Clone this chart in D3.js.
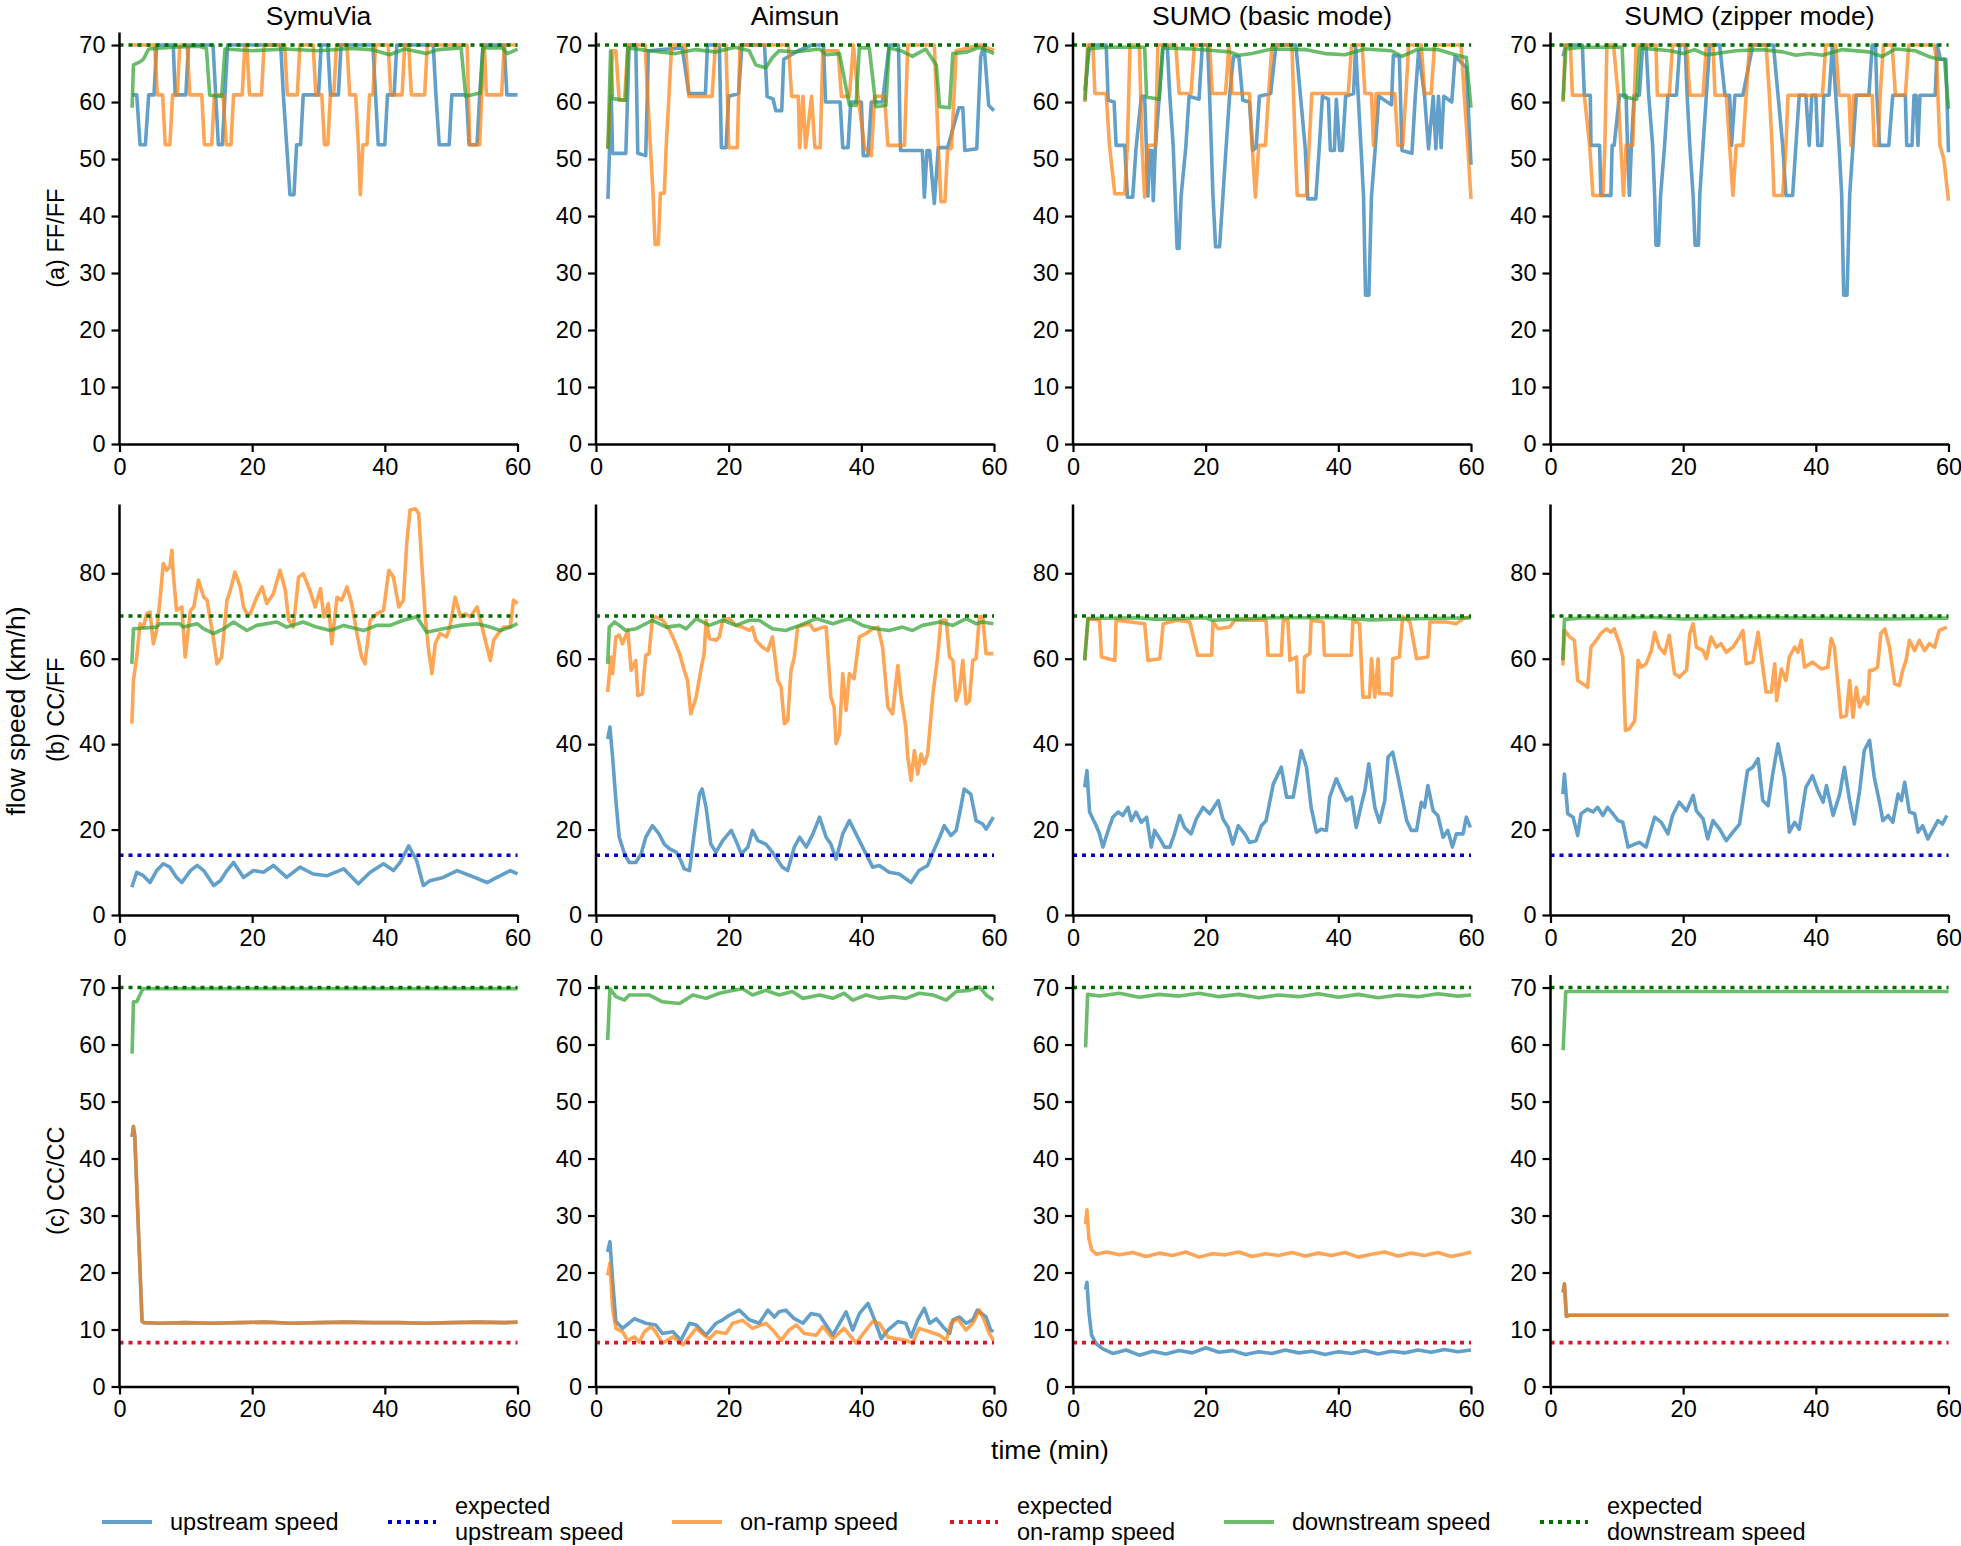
<!DOCTYPE html>
<html>
<head>
<meta charset="utf-8">
<script src="https://cdn.jsdelivr.net/npm/d3@7"></script>
<style>
  body { margin: 0; background: #fff; }
  text { font-family: "Liberation Sans", Arial, sans-serif; fill: #000; }
</style>
</head>
<body>
<svg id="chart" width="1961" height="1546"></svg>
<script>
// ---- data: [time (min), speed (km/h)] ----
const columns = ['SymuVia', 'Aimsun', 'SUMO (basic mode)', 'SUMO (zipper mode)'];
const rowLabels = ['(a) FF/FF', '(b) CC/FF', '(c) CC/CC'];
const xTicks = [0, 20, 40, 60];
const expectedDown = 70;
const expectedUp = 14;
const expectedRamp = 7.7;

// (a) FF/FF
const symFF_up = [[1.9,61.25],[2.6,61.25],[3.1,52.5],[3.9,52.5],[4.4,61.25],[5.2,61.25],[5.6,70],[8.1,70],[8.4,61.25],[10,61.25],[10.4,70],[14.1,70],[14.5,61.25],[14.9,52.5],[15.5,52.5],[15.9,61.25],[16.3,70],[24.3,70],[24.7,61.25],[25.2,52.5],[25.7,43.75],[26.3,43.75],[26.7,52.5],[27.3,52.5],[27.7,61.25],[30,61.25],[30.4,70],[31.4,70],[31.8,61.25],[33,61.25],[33.4,70],[38.2,70],[38.6,61.25],[39,52.5],[40,52.5],[40.4,61.25],[41.4,61.25],[41.8,70],[47.3,70],[47.7,61.25],[48.2,52.5],[49.7,52.5],[50.1,61.25],[52.3,61.25],[52.7,52.5],[53.9,52.5],[54.3,61.25],[54.8,70],[58,70],[58.4,61.25],[60,61.25]];
const symFF_ramp = [[1.9,70],[5.3,70],[5.7,61.25],[6.5,61.25],[6.9,52.5],[7.6,52.5],[8,61.25],[8.7,61.25],[9.1,70],[10.2,70],[10.6,61.25],[12.4,61.25],[12.8,52.5],[13.9,52.5],[14.3,61.25],[15.6,61.25],[16.1,52.5],[16.8,52.5],[17.2,61.25],[18.5,61.25],[18.9,70],[19.2,70],[19.6,61.25],[21.4,61.25],[21.8,70],[24.9,70],[25.3,61.25],[26.8,61.25],[27.2,70],[29.2,70],[29.6,61.25],[30.5,61.25],[30.9,52.5],[31.4,52.5],[31.8,61.25],[32.3,61.25],[32.7,70],[34.3,70],[34.7,61.25],[35.6,61.25],[36,52.5],[36.3,43.75],[36.7,52.5],[37.3,52.5],[37.7,61.25],[38.2,61.25],[38.6,70],[40.5,70],[40.9,61.25],[42.6,61.25],[43,70],[43.6,70],[44,61.25],[46,61.25],[46.4,70],[52.4,70],[52.8,52.5],[54.3,52.5],[54.6,61.25],[55,70],[55.3,61.25],[57.6,61.25],[58,70],[60,70]];
const symFF_down = [[1.9,59],[2.1,66.5],[3,67],[3.6,67.5],[4.4,69.3],[8,69.6],[12,69.8],[13.1,69.4],[13.6,61.2],[15.4,61],[15.9,69.3],[20,69],[25,69.3],[30,69],[35,69.4],[38,69.2],[40.7,68.3],[43,69.3],[46.2,68.5],[48,69.2],[51.5,69.5],[52.2,61],[54,61.5],[54.4,61.5],[54.8,69.5],[57.7,69.5],[58.5,68.5],[60,69.3]];

const aimFF_up = [[1.8,43],[2.3,61],[2.5,51],[4.5,51],[5,70],[6,70],[6.3,51],[7.5,50.6],[7.9,69],[13,69.5],[14,61.5],[16.5,61.5],[16.8,70],[18.6,70],[18.9,52],[19.6,52],[20,61],[21.5,61.5],[22,70],[25.4,70],[25.8,61],[26.7,60.5],[27.1,58.5],[28,58.5],[28.3,67.5],[30.5,69],[32.5,70],[34.3,70],[34.6,60],[36.8,60],[37.2,52],[38,52],[38.4,60],[40,60],[40.3,50.6],[41,50.6],[41.5,60],[43.2,60],[44.2,70],[45.6,70],[45.9,51.5],[49.2,51.5],[49.5,43.3],[49.9,51.5],[50.3,51.5],[51,42.2],[51.6,52],[53,52],[54.7,59],[55.3,59],[55.6,51.5],[57.4,51.8],[58,68],[58.5,70],[59.2,59.4],[60,58.5]];
const aimFF_ramp = [[1.8,51.8],[2.5,69],[3,69],[3.5,60.3],[4.3,60.3],[4.8,70],[7.4,70],[8.2,52],[8.6,44],[8.9,35],[9.4,35],[9.7,44],[10.3,44],[10.6,52.7],[11,61],[11.4,70],[13.5,70],[14,61],[17.5,61],[18,70],[19.6,70],[20,52],[21.3,52],[21.7,70],[29,70],[29.5,61],[30.5,61],[30.7,52],[31.2,61],[31.6,52],[32.5,61],[33,52],[33.8,52],[34.2,69],[36.5,69],[37,61],[38.2,61],[38.8,70],[39.5,61],[40.5,52],[41.5,50.6],[42,61],[43.5,61],[44,52.4],[46.5,52.4],[47,70],[51,70],[51.7,50],[52,42.5],[52.6,42.5],[53,51.5],[53.6,52],[54.3,69],[58,70],[60,69]];
const aimFF_down = [[1.8,51.8],[2.2,69],[2.5,60.6],[4.5,60.3],[4.8,69.5],[8,69],[12,68.5],[15,69.2],[18,68.8],[21,69.6],[23.1,69],[24.1,66.5],[25.6,66],[26.6,67.8],[27.6,69],[30,68.8],[33.7,69.3],[34.7,68.3],[36.7,68.5],[38.2,59.5],[39.2,59.4],[39.7,69.5],[41.2,69.5],[42.2,59.2],[43.7,59.4],[44.2,69.5],[46,69],[47.7,68],[49.7,69.3],[51.3,66.5],[51.8,59.2],[53.3,59],[53.8,68.5],[56,68.8],[57.8,69.6],[60,68.5]];

const basFF_up = [[1.8,62],[2.5,70],[5,70],[5.3,60.3],[6.2,60],[6.5,52.4],[7.8,52.4],[8.2,43.3],[9,43.3],[9.5,51.8],[10.3,61],[10.8,61],[11.3,43.5],[11.6,51.5],[11.9,51.5],[12.1,42.7],[12.4,51.5],[13,61],[13.6,70],[14.2,70],[14.6,61],[15.1,52.4],[15.4,43.5],[15.7,34.3],[16,34.3],[16.3,43.5],[17,52],[17.5,61],[19,60.5],[19.5,70],[20.3,70],[20.6,61],[21.1,43.5],[21.5,34.6],[22.1,34.6],[22.6,43.5],[23.1,52.4],[23.6,61],[24.2,68],[25,68],[25.6,60.3],[26.6,60],[27.1,51.5],[27.6,52],[28.1,61],[29.8,61.5],[30.6,70],[33.6,70],[34.3,61],[35,52],[35.4,43],[36.6,43],[37.1,51.5],[37.6,61],[38.5,60.5],[38.8,51.5],[39.4,51.5],[39.7,60.5],[40.2,51.5],[40.6,51.5],[41.1,61],[42.3,61.5],[42.6,70],[43,61],[43.4,52.4],[43.8,43.5],[44.1,26.1],[44.6,26.1],[45,43.5],[45.6,52.4],[46.1,61],[48,59.5],[48.3,68.2],[49.2,68],[49.6,51.5],[51.1,51],[51.6,61],[52.1,69],[53,61],[53.6,51.8],[54.3,61],[54.7,51.8],[55.1,61],[55.5,52],[55.9,61],[57.1,60],[57.6,68],[58.5,67],[59.3,66],[60,49]];
const basFF_ramp = [[1.8,60],[2.2,70],[3,70],[3.3,61.5],[5,61.5],[5.5,52.4],[6.3,43.9],[7.8,43.9],[8.2,52.4],[8.6,70],[10,70],[10.4,52.4],[10.8,43.3],[11.3,52.4],[12.4,52.4],[12.8,70],[15.5,70],[16,61.5],[17.8,61.5],[18.3,70],[20.6,70],[21,61.5],[23,61.5],[23.5,70],[24,61.5],[26.6,61.5],[27,52.4],[27.5,43.3],[28,52.4],[29,52.4],[29.5,61.5],[30,70],[33,70],[33.5,52.4],[33.8,43.6],[35.2,43.6],[35.6,52.4],[36,61.5],[41.5,61.5],[42,70],[43.6,70],[44,61.5],[45,61.5],[45.3,52.4],[45.7,61.5],[48.5,61.5],[49,52.4],[49.7,52.4],[50.2,61.5],[50.6,70],[52.5,70],[53,61.5],[54,61.5],[54.5,70],[58.5,70],[59,61],[59.5,52.4],[60,43]];
const basFF_down = [[1.8,60.3],[2.3,69.3],[5,69.6],[10.8,69.6],[11.1,60.9],[13,60.5],[13.5,69.5],[18,69.3],[21.5,69],[23.6,68.8],[25,68.2],[27,68.5],[30,69.3],[35,69.2],[38,68.5],[41,68.3],[44,69.3],[48,69],[49.6,68],[52,69.3],[55,69.2],[57,68.5],[58.6,68],[59.3,67.8],[60,59]];

const zipFF_up = [[1.9,68],[2.3,70],[4.8,70],[5.1,61.2],[6,61.2],[6.1,52.4],[7.4,52.4],[7.6,43.6],[9.1,43.6],[9.3,52.4],[9.6,52.4],[10.4,61.2],[11.4,61.2],[11.6,52.4],[11.9,43.6],[12.2,52.4],[12.6,61.2],[13.4,61.2],[13.9,70],[14.4,70],[14.8,61.2],[15.4,52.4],[15.7,43.6],[15.9,34.9],[16.3,34.9],[16.6,43.6],[17.2,52.4],[17.7,61.2],[19,61.2],[19.5,70],[20.3,70],[20.6,61.2],[21,52.4],[21.5,43.6],[21.8,34.9],[22.3,34.9],[22.5,43.6],[23,52.4],[23.5,61.2],[24,70],[25.5,70],[26.3,61.2],[27,61.2],[27.3,52.4],[27.8,61.2],[29,61.2],[30.5,70],[33.6,70],[34.3,61.2],[35,52.4],[35.5,43.6],[36.5,43.6],[37,52.4],[37.5,61.2],[38.5,61.2],[39,52.4],[39.4,61.2],[40,61.2],[40.3,52.4],[40.9,52.4],[41.2,61.2],[42,61.2],[42.5,70],[43,61.2],[43.5,52.4],[43.9,43.6],[44.2,26.1],[44.7,26.1],[45.1,43.6],[45.6,52.4],[46.1,61.2],[48,61.2],[48.5,70],[49,70],[49.2,61.2],[49.6,52.4],[51,52.4],[51.6,61.2],[53.5,61.2],[53.7,52.4],[54.5,52.4],[54.8,61.2],[55.1,61.2],[55.4,52.4],[55.7,61.2],[58,61.2],[58.3,70],[58.8,67.5],[59.6,67.5],[60,51.2]];
const zipFF_ramp = [[1.9,60],[2.2,70],[3,70],[3.3,61.2],[5.1,61.2],[5.9,52.4],[6.4,43.6],[7.9,43.6],[8.2,52.4],[8.5,70],[9.5,70],[10.2,61.2],[10.6,52.4],[11,43.6],[11.4,52.4],[12.4,52.4],[12.9,70],[15.9,70],[16.1,61.2],[17.9,61.2],[18.4,70],[20.5,70],[21,61.2],[23,61.2],[23.5,70],[24.5,70],[24.8,61.2],[26.5,61.2],[27,52.4],[27.5,43.6],[28,52.4],[29,52.4],[29.5,61.2],[30,70],[32.5,70],[33,61.2],[33.4,52.4],[33.7,43.6],[35,43.6],[35.5,52.4],[35.8,61.2],[41,61.2],[41.5,70],[43,70],[43.5,61.2],[45,61.2],[45.3,52.4],[45.7,61.2],[48.5,61.2],[48.8,52.4],[49.4,52.4],[49.7,61.2],[50.2,70],[51.5,70],[52,61.2],[53.5,61.2],[54,70],[57.8,70],[58.2,67.5],[58.7,52.4],[59.3,50],[60,42.7]];
const zipFF_down = [[1.9,60.3],[2.3,69.3],[5,69.6],[10.8,69.6],[11.1,60.9],[13,60.5],[13.4,69.5],[18,69],[20,68.5],[21.7,69.2],[23.5,68.3],[25,68.5],[28,69],[32,69.2],[35,68.8],[37,68.2],[39,68.5],[41,68.2],[44,69.2],[48,68.8],[50,68],[52,69.3],[55,69],[57,68],[58.5,67.5],[59.4,67.5],[60,58.8]];

// (b) CC/FF
const symCF_up = [[1.86,6.5],[2.6,10],[3.6,9.2],[4.6,7.6],[5.6,10.4],[6.6,12],[7.6,11.2],[8.6,8.8],[9.4,7.6],[10.7,10.4],[11.7,11.6],[12.7,10.4],[14.2,6.9],[15.2,8],[16.2,10.4],[17.2,12.3],[18.7,8.8],[20.2,10.4],[21.7,10],[23.2,11.6],[25.2,8.8],[27.2,11.2],[29.2,9.6],[31.3,9.2],[33.8,10.8],[36,7.3],[37.8,10],[39.8,12],[41.3,10.4],[42.3,12.3],[43.6,16.2],[44.8,12.7],[45.8,6.9],[46.8,8],[48.8,8.8],[50.9,10.4],[52.9,9.2],[55.4,7.6],[56.9,8.8],[58.9,10.4],[60,9.6]];
const symCF_ramp = [[1.86,44.8],[2.1,54.9],[2.6,60.4],[3.1,68.2],[3.6,67.4],[4.1,70.5],[4.6,70.9],[5.1,63.5],[5.6,66.6],[6.1,73.7],[6.6,82.3],[7.1,80.7],[7.6,81.5],[7.9,85.4],[8.1,79.9],[8.6,71.3],[9.4,72.1],[9.9,60.4],[10.7,71.3],[11.2,72.1],[11.9,78.4],[12.7,74.4],[13.2,73.7],[14.2,64.3],[14.7,58.8],[15.4,60.4],[16.2,73.7],[16.7,76],[17.4,80.3],[18.2,76.8],[18.7,72.1],[19.2,70.5],[19.7,70.5],[20.7,74.4],[21.5,76.8],[22.2,72.9],[23.2,75.2],[24.2,80.7],[25,76],[25.5,69],[26.2,67.4],[27,79.1],[27.7,79.9],[28.7,76],[29.5,72.1],[30.3,76.4],[30.8,69.8],[31.5,72.9],[32,63.5],[32.8,74.4],[33.5,73.7],[34.3,76.8],[35,72.9],[35.8,65.8],[36.5,60.4],[37,58.8],[37.8,69],[38.8,70.5],[39.8,71.3],[40.6,80.7],[41.3,79.1],[42.1,72.1],[42.8,73.7],[43.3,87],[43.8,94.8],[44.6,95.1],[45.1,94],[45.6,81.5],[46.1,69.8],[46.6,61.9],[47.1,56.5],[47.6,63.5],[48.3,65.9],[49.3,65.1],[49.8,67.4],[50.6,74.4],[51.4,69.8],[52.1,70.5],[52.9,69.8],[53.9,72.1],[54.9,65.9],[55.9,59.6],[56.4,64.3],[57.1,65.9],[57.9,67.4],[58.9,67.4],[59.4,73.7],[60,72.9]];
const symCF_down = [[1.86,58.8],[2.1,67],[5.6,67.4],[6.1,68.2],[9.1,68.2],[9.6,67.4],[11.7,68.2],[12.7,67],[14.2,65.9],[15.7,67],[17.2,68.6],[19.2,66.6],[20.7,67.8],[23.7,68.6],[25.2,67.4],[27.7,68.6],[29.7,67.4],[31.8,66.6],[33.8,67.8],[36.8,66.6],[38.8,67.8],[40.8,67.8],[42.8,69],[44.8,69.8],[46.3,66.2],[48.8,67],[51.4,67.8],[53.9,68.2],[55.9,67.4],[57.4,66.6],[58.9,67.4],[60,68.2]];

const aimCF_up = [[1.76,41.2],[2.1,44],[2.5,37],[3,26.8],[3.5,18.2],[4.3,14.3],[5,12.3],[6,12.3],[6.8,14.3],[7.5,18.2],[8.5,20.9],[9.5,19],[10.3,16.6],[11.1,15.5],[12.1,14.7],[12.8,12.7],[13.3,10.8],[14.1,10.4],[14.8,19],[15.6,28.3],[16,29.5],[16.6,25.2],[17.3,16.6],[18.1,14.7],[19.1,17.4],[20.4,19.8],[21.1,17.4],[21.9,14.3],[22.9,15.9],[23.6,19.8],[24.4,17.4],[25.6,16.6],[26.6,14.7],[28.1,11.2],[28.9,10.4],[29.9,15.9],[30.7,18.2],[31.7,15.9],[32.7,19],[33.7,22.9],[34.7,18.2],[35.4,16.6],[36.2,13.1],[37.2,19],[38.2,22.1],[39.2,19],[40.2,15.9],[41.7,11.2],[42.7,11.6],[44.2,10],[45.7,9.6],[47.5,7.6],[48.7,10.4],[50,11.6],[50.8,14.7],[51.8,18.2],[52.5,20.9],[53.5,18.6],[54.3,19.8],[55,25.2],[55.5,29.5],[56.5,28.3],[57.3,22.1],[58.3,21.3],[58.8,20.1],[59.3,21.3],[59.9,22.9]];
const aimCF_ramp = [[1.76,52.2],[2.26,60.4],[2.5,56.5],[3,65.1],[3.5,65.5],[4,63.5],[4.8,66.6],[5.3,57.3],[6,59.6],[6.3,51.4],[7,51.8],[7.5,60.8],[8,61.2],[8.5,69.4],[9,69.8],[10.1,69],[11.1,66.6],[11.8,64.3],[12.6,61.2],[13.3,57.3],[13.8,54.9],[14.3,47.1],[15.1,51],[15.8,57.3],[16.3,61.2],[16.6,69],[17.1,64.7],[18.1,64.3],[18.6,65.1],[19.1,69],[20.1,69.4],[21.1,67.8],[22.1,67.4],[23.1,66.6],[23.6,67.4],[24.1,64.3],[25.1,62.7],[25.9,61.9],[26.6,65.1],[27.4,54.9],[27.9,53.4],[28.4,44.8],[28.9,45.5],[29.4,57.3],[29.9,60.4],[30.4,67.4],[31.2,67.8],[32.2,68.2],[32.9,66.6],[34.2,67.4],[34.7,67.4],[35.4,51],[35.9,48.7],[36.2,40.1],[36.7,42.4],[37.2,56.5],[37.7,47.9],[38.2,56.5],[38.9,55.3],[39.7,65.1],[40.7,65.9],[41.7,67],[42.5,67.4],[43.2,62.7],[44,48.7],[44.7,47.1],[45.5,58.4],[46,51],[46.7,44],[47,37],[47.5,31.5],[48,38.5],[48.5,33],[49,37.7],[49.5,35.4],[50,37.7],[50.8,51.8],[51.5,60.4],[52,69],[52.8,69],[53.3,60.4],[53.8,59.6],[54.3,50.2],[54.8,52.6],[55.3,59.6],[55.8,49.4],[56.3,50.2],[56.8,59.6],[57.3,60],[57.8,69.8],[58.3,69.8],[58.8,61.2],[59.9,61.2]];
const aimCF_down = [[1.76,58.8],[2,67.4],[2.8,68.6],[3.5,67.8],[4.5,66.6],[6,67],[8.5,69],[10.6,67.4],[12.6,67.8],[13.6,67],[15.1,69.4],[17.1,67.8],[19.1,69],[21.1,67.8],[23.1,69],[24.6,69],[26.6,67],[28.6,66.6],[30.7,67.8],[33.2,69.4],[35.7,68.2],[38.2,69.4],[40.2,67.8],[42.2,67],[44.2,66.6],[46.2,67.4],[47.7,66.6],[49.2,67.8],[51.8,68.6],[53.8,67.8],[55.8,69.4],[57.3,68.2],[58.3,68.6],[59.9,68.2]];

const basCF_up = [[1.76,29.9],[2.1,33.8],[2.5,24.1],[3.5,20.9],[4,19],[4.5,15.9],[5.3,19.8],[6,22.9],[6.8,24.1],[7.5,23.3],[8.3,25.2],[8.8,22.1],[9.5,24.1],[10.3,21.7],[11.1,22.9],[11.8,15.9],[12.3,19.8],[13.1,17.8],[13.8,15.9],[14.6,15.9],[15.3,19],[16.1,23.3],[16.8,20.5],[17.8,19],[18.6,22.5],[19.6,25.2],[20.6,23.7],[21.9,26.8],[22.6,22.5],[23.4,20.5],[24.1,16.6],[24.9,20.9],[25.9,19],[26.6,17],[27.6,17.4],[28.4,20.9],[29.1,22.1],[30.2,30.7],[31.4,34.6],[32.2,27.6],[33.2,27.6],[33.9,33.8],[34.4,38.5],[35.2,34.6],[35.9,25.2],[36.7,19.4],[37.4,20.1],[38.2,19.8],[38.7,27.6],[39.7,31.9],[40.5,29.1],[41.2,26.8],[42,27.6],[42.7,20.5],[43.5,26],[44,29.1],[44.6,35.4],[45.5,25.2],[46.2,21.7],[47,26.8],[47.5,37],[48.2,38.1],[49,32.3],[49.7,26.8],[50.3,22.1],[51,19.8],[51.8,19.8],[52.5,26.4],[53,25.2],[53.5,30.3],[54.3,24.4],[55,23.3],[55.8,18.2],[56.5,19.8],[57.2,15.9],[57.8,19],[58.8,19],[59.3,22.9],[59.9,20.5]];
const basCF_ramp = [[1.76,59.6],[2.26,69.4],[4,69],[4.3,60.4],[6.3,59.6],[6.5,69],[10.8,68.2],[11.3,59.6],[13.1,60],[13.6,68.2],[15.6,69],[17.6,68.6],[18.8,60.8],[20.9,60.8],[21.1,68.6],[21.9,67],[23.6,67.4],[24.4,69],[29.1,69],[29.4,60.8],[31.4,60.8],[31.7,69],[32.4,69],[32.7,59.6],[33.7,60.4],[33.9,52.2],[34.7,52.2],[34.9,60.4],[35.7,61.2],[35.9,69],[37.7,68.6],[37.9,60.8],[41.96,60.8],[42.2,69],[43.2,68.2],[43.7,51],[44.7,51],[45,60],[45.5,51],[46,60],[46.2,51.8],[47.5,51.8],[48,51.4],[48.2,60],[49.2,60.4],[49.7,69.8],[50.8,68.6],[51.8,60],[53.5,60.4],[53.8,68.6],[56.3,68.6],[57.8,68.2],[58.8,69.4],[59.9,69.8]];
const basCF_down = [[1.76,59.6],[2.26,69.4],[10,69.6],[12.5,69.2],[20,69.6],[21,69],[30,69.6],[40,69.6],[44.7,69.1],[50,69.3],[60,69.6]];

const zipCF_up = [[1.86,28.3],[2.1,33],[2.6,23.7],[3.4,22.9],[4.1,18.6],[4.6,23.7],[5.6,24.8],[6.4,24.1],[7.1,25.2],[7.9,23.3],[8.6,25.2],[9.4,23.7],[10.2,22.1],[10.9,21.7],[11.7,15.9],[12.7,16.6],[13.4,17],[14.4,15.9],[15.7,22.9],[16.7,21.7],[17.7,19],[18.4,23.3],[19.4,26.4],[20.5,24.4],[21.5,28],[22,24.4],[23,22.5],[23.7,17.8],[24.5,22.1],[25.5,20.1],[26.5,17.4],[27.5,19.4],[28.5,21.3],[29.7,33.8],[30.5,34.6],[31.3,36.6],[32,26.8],[32.8,25.6],[33.5,33],[34.3,40.1],[35.3,32.3],[36,19.4],[36.8,21.7],[37.5,20.1],[38.5,29.9],[39.5,32.6],[40.3,29.1],[41.1,26.4],[41.6,30.3],[42.6,23.3],[43.6,28.3],[44.3,34.6],[45.1,26.8],[45.8,21.3],[46.6,29.1],[47.3,38.5],[48.1,40.9],[48.8,32.3],[49.6,26.4],[50.1,22.1],[50.9,23.3],[51.6,21.7],[52.4,28.3],[52.9,26.8],[53.4,31.1],[54.1,24.1],[54.9,23.7],[55.4,19.4],[56.1,20.9],[56.9,17.8],[57.6,19.8],[58.4,22.1],[59.1,21.3],[59.75,23.3]];
const zipCF_ramp = [[1.86,58.4],[2.1,66.6],[2.9,65.1],[3.6,64.3],[4.1,54.9],[4.9,54.1],[5.6,53.3],[6.1,62.7],[6.9,64.3],[7.6,65.9],[8.4,67],[9.1,66.2],[9.6,67],[10.4,63.5],[10.9,60.4],[11.3,43.2],[11.9,43.6],[12.7,45.5],[13.2,59.6],[13.7,58],[14.4,58.8],[15.2,61.9],[15.7,66.2],[16.4,62.7],[17.2,61.2],[17.9,65.5],[18.7,56.5],[19.4,55.7],[20.5,57.3],[21,65.9],[21.5,68.2],[22,62.7],[23,61.9],[23.5,60],[24.2,65.1],[25,62.7],[25.7,63.5],[26.5,61.5],[27.5,62.7],[28.5,65.1],[29,66.6],[29.5,58.8],[30.5,59.2],[31.3,66.2],[31.8,60.4],[32.5,52.2],[33.3,52.2],[33.8,58.8],[34.1,50.2],[34.8,57.6],[35.5,54.9],[36,60.4],[36.8,62.7],[37.3,61.5],[37.8,64.3],[38.3,58],[39.5,59.2],[40.8,57.6],[41.8,58],[42.3,64.7],[42.8,62.7],[43.3,54.5],[43.8,46.3],[44.6,46.7],[45.1,54.9],[45.6,46.3],[46.1,53.3],[46.6,48.7],[47.3,51],[47.8,49.4],[48.1,57.3],[48.6,57.3],[49.3,58],[49.8,65.9],[50.4,67],[51.1,62.7],[51.9,54.1],[52.6,53.7],[53.1,57.3],[53.6,59.6],[54.1,64.3],[54.9,61.9],[55.6,64.3],[56.4,61.9],[57.1,63.5],[57.9,62.7],[58.6,66.6],[59.75,67.4]];
const zipCF_down = [[1.86,59.6],[2.1,69.2],[5,69.6],[10,69.4],[15,69.7],[20,69.3],[25,69.5],[30,69.6],[40,69.5],[50,69.3],[60,69.5]];

// (c) CC/CC
const symCC_ramp = [[1.9,43.8],[2.1,45.6],[2.3,44],[3.4,11.4],[3.7,11.2],[6,11.1],[10,11.2],[14,11.1],[18,11.2],[22,11.3],[26,11.1],[30,11.2],[34,11.3],[38,11.2],[42,11.2],[46,11.1],[50,11.2],[54,11.3],[58,11.2],[60,11.3]];
const symCC_up = symCC_ramp.map(d => [d[0], d[1]]);
const symCC_down = [[1.9,58.4],[2.1,67.5],[2.6,67.5],[3.4,69.5],[3.6,69.8],[60,69.8]];

const aimCC_up = [[1.76,23.6],[2.1,25.4],[2.5,18.7],[3,11.4],[4,10.2],[5.8,11.9],[7.5,11.1],[9,10.8],[10,9.3],[11.6,9.6],[12.8,8.1],[14.1,11.1],[15.1,10.8],[16.6,9],[18.1,11.1],[19.1,11.7],[20.1,12.5],[21.6,13.4],[23.1,11.7],[24.6,11.1],[25.9,13.4],[26.9,12.2],[27.6,13.1],[28.6,13.4],[29.9,11.9],[31.2,11.1],[32.4,12.8],[33.7,12.5],[35.7,9],[37.7,13.1],[38.7,9.9],[39.7,12.8],[41,14.6],[42,11.7],[43,8.4],[44,9.9],[45.5,11.4],[46.7,11.1],[47.5,8.7],[48.5,11.7],[49.5,13.7],[50.3,11.1],[51.3,11.9],[52.3,10.5],[53.3,9.3],[53.8,11.7],[54.8,12.2],[55.8,11.1],[56.8,11.7],[57.5,13.4],[58.8,12.2],[59.5,9.9],[59.9,9.6]];
const aimCC_ramp = [[1.76,19.5],[2.1,21.6],[2.5,13.7],[3,10.2],[4,9.6],[4.8,8.1],[5.8,8.7],[6.5,7.8],[7.3,9.6],[8.3,10.5],[9,9.6],[10,7.6],[11.6,8.7],[13.1,7.3],[14.1,8.7],[15.1,10.2],[16.3,9],[17.1,8.4],[18.1,9.6],[19.6,9.3],[20.6,11.1],[22.1,11.6],[23.6,10.2],[25.6,11.1],[26.9,9.6],[27.9,8.1],[29.1,9.9],[30.2,10.8],[31.4,9.3],[33.2,9],[34.2,10.5],[35.7,8.4],[37.4,10.2],[39.2,7.6],[40.5,9.6],[41.7,11.4],[42.7,11.1],[44,8.7],[45.2,8.4],[46.7,8.1],[47.7,7.6],[48.7,10.2],[50.3,9.6],[51.8,9],[52.8,8.1],[53.5,11.1],[54.5,11.9],[55.8,9.9],[56.8,11.1],[57.8,13.4],[58.5,11.7],[59.3,9.3],[59.9,8.1]];
const aimCC_down = [[1.76,60.8],[2.1,69.8],[3,68.4],[4.3,67.8],[5,68.7],[8,68.7],[10,67.5],[12.6,67.2],[14.6,68.7],[16.6,68.1],[18.6,69],[20.6,69.5],[22.1,69.8],[23.6,68.7],[25.6,69.5],[27.6,68.7],[29.6,69.3],[31.2,68.1],[33.7,68.7],[35.7,68.1],[37.4,69],[38.7,67.8],[40.7,68.7],[42.7,68.1],[44.7,68.4],[46.7,68.1],[48.7,69],[50.8,68.7],[52.8,67.8],[54.3,69.3],[56.3,69.5],[57.8,70.1],[58.8,68.7],[59.9,67.8]];

const basCC_up = [[1.9,17],[2.1,18.3],[2.4,13],[2.8,9],[3.5,7.5],[4.5,6.6],[6,5.8],[8,6.4],[10,5.5],[12,6.2],[14,5.7],[16,6.3],[18,5.9],[20,6.8],[22,6],[24,6.3],[26,5.6],[28,6.1],[30,5.8],[32,6.4],[34,5.9],[36,6.2],[38,5.6],[40,6.1],[42,5.8],[44,6.3],[46,5.7],[48,6.2],[50,5.9],[52,6.4],[54,6],[56,6.5],[58,6.1],[60,6.4]];
const basCC_ramp = [[1.9,28.5],[2.1,31],[2.4,26],[2.8,24],[3.5,23.2],[5,23.6],[7,23.1],[9,23.5],[11,22.8],[13,23.4],[15,23],[17,23.6],[19,22.7],[21,23.3],[23,23.1],[25,23.6],[27,22.8],[29,23.3],[31,23],[33,23.5],[35,22.9],[37,23.4],[39,23],[41,23.5],[43,22.7],[45,23.2],[47,23.6],[49,22.9],[51,23.4],[53,23],[55,23.5],[57,22.8],[59,23.3],[60,23.6]];
const basCC_down = [[1.9,59.5],[2.2,68.8],[4,68.5],[7,69],[10,68.3],[13,68.8],[16,68.5],[19,69],[22,68.4],[25,68.8],[28,68.2],[31,68.7],[34,68.4],[37,68.9],[40,68.3],[43,68.8],[46,68.2],[49,68.7],[52,68.4],[55,68.9],[58,68.5],[60,68.7]];

const zipCC_ramp = [[1.9,16.5],[2.1,18],[2.4,12.3],[2.8,12.5],[60,12.5]];
const zipCC_up = zipCC_ramp.map(d => [d[0], d[1]]);
const zipCC_down = [[1.9,59],[2.3,69.3],[60,69.3]];

// ---- layout ----
const colX = [119.5, 596, 1073, 1550.5];
const panelW = 398;
const rowSpecs = [
  { top: 32.5, bottom: 444, yMax: 72.2, ticks: d3.range(0, 71, 10), expected: [[expectedDown, 'down']] },
  { top: 504.5, bottom: 915, yMax: 96.1, ticks: d3.range(0, 81, 20), expected: [[expectedDown, 'down'], [expectedUp, 'up']] },
  { top: 975, bottom: 1386.5, yMax: 72.2, ticks: d3.range(0, 71, 10), expected: [[expectedDown, 'down'], [expectedRamp, 'ramp']] }
];
const grid = [
  [[symFF_up, symFF_ramp, symFF_down], [aimFF_up, aimFF_ramp, aimFF_down], [basFF_up, basFF_ramp, basFF_down], [zipFF_up, zipFF_ramp, zipFF_down]],
  [[symCF_up, symCF_ramp, symCF_down], [aimCF_up, aimCF_ramp, aimCF_down], [basCF_up, basCF_ramp, basCF_down], [zipCF_up, zipCF_ramp, zipCF_down]],
  [[symCC_up, symCC_ramp, symCC_down], [aimCC_up, aimCC_ramp, aimCC_down], [basCC_up, basCC_ramp, basCC_down], [zipCC_up, zipCC_ramp, zipCC_down]]
];
const lineColor = { up: '#1f77b4', ramp: '#ff7f0e', down: '#2ca02c' };
const expColor = { up: '#0000cc', ramp: '#dc1428', down: '#006f00' };
const keys = ['up', 'ramp', 'down'];
const font = '"Liberation Sans", Arial, sans-serif';
const smallSize = 23.5, bigSize = 26.5;

const svg = d3.select('#chart');

rowSpecs.forEach((row, ri) => {
  const y = d3.scaleLinear().domain([0, row.yMax]).range([row.bottom, row.top]);
  columns.forEach((title, ci) => {
    const x = d3.scaleLinear().domain([0, 60]).range([colX[ci], colX[ci] + panelW]);
    const g = svg.append('g');

    // series lines
    const line = d3.line().x(d => x(d[0])).y(d => y(d[1]));
    grid[ri][ci].forEach((series, si) => {
      g.append('path')
        .attr('d', line(series))
        .attr('fill', 'none')
        .attr('stroke', lineColor[keys[si]])
        .attr('stroke-opacity', 0.7)
        .attr('stroke-width', 3.6)
        .attr('stroke-linejoin', 'round');
    });

    // expected speeds (dotted)
    row.expected.forEach(([v, k]) => {
      g.append('line')
        .attr('x1', x(0)).attr('x2', x(60))
        .attr('y1', y(v)).attr('y2', y(v))
        .attr('stroke', expColor[k])
        .attr('stroke-width', 3.6)
        .attr('stroke-dasharray', '4,5');
    });

    // axes
    const xAxis = g.append('g')
      .attr('transform', `translate(0,${row.bottom})`)
      .call(d3.axisBottom(x).tickValues(xTicks).tickSize(8).tickSizeOuter(0).tickPadding(6));
    const yAxis = g.append('g')
      .attr('transform', `translate(${colX[ci]},0)`)
      .call(d3.axisLeft(y).tickValues(row.ticks).tickSize(8).tickSizeOuter(0).tickPadding(6));
    [xAxis, yAxis].forEach(a => {
      a.select('.domain').attr('stroke', '#000').attr('stroke-width', 2.5);
      a.selectAll('.tick line').attr('stroke', '#000').attr('stroke-width', 2.2);
      a.selectAll('.tick text').attr('font-size', smallSize).attr('font-family', font).attr('fill', '#000');
    });
    yAxis.select('.domain').attr('d', `M0,${row.bottom}V${row.top}`);

    if (ri === 0) {
      svg.append('text')
        .attr('x', colX[ci] + panelW / 2)
        .attr('y', 25)
        .attr('text-anchor', 'middle')
        .attr('font-size', bigSize)
        .text(title);
    }
  });

  svg.append('text')
    .attr('transform', `translate(64,${(row.top + row.bottom) / 2}) rotate(-90)`)
    .attr('text-anchor', 'middle')
    .attr('font-size', smallSize)
    .text(rowLabels[ri]);
});

// shared axis labels
svg.append('text')
  .attr('transform', 'translate(25,711) rotate(-90)')
  .attr('text-anchor', 'middle')
  .attr('font-size', bigSize)
  .text('flow speed (km/h)');
svg.append('text')
  .attr('x', 1050).attr('y', 1459)
  .attr('text-anchor', 'middle')
  .attr('font-size', bigSize)
  .text('time (min)');

// legend
const legendItems = [
  { x: 102, k: 'up', dotted: false, label: ['upstream speed'] },
  { x: 388, k: 'up', dotted: true, label: ['expected', 'upstream speed'] },
  { x: 672, k: 'ramp', dotted: false, label: ['on-ramp speed'] },
  { x: 950, k: 'ramp', dotted: true, label: ['expected', 'on-ramp speed'] },
  { x: 1224, k: 'down', dotted: false, label: ['downstream speed'] },
  { x: 1540, k: 'down', dotted: true, label: ['expected', 'downstream speed'] }
];
const legY = 1522;
legendItems.forEach(it => {
  const w = it.dotted ? 48 : 50;
  svg.append('line')
    .attr('x1', it.x).attr('x2', it.x + w)
    .attr('y1', legY).attr('y2', legY)
    .attr('stroke', it.dotted ? expColor[it.k] : lineColor[it.k])
    .attr('stroke-opacity', it.dotted ? 1 : 0.7)
    .attr('stroke-width', 3.8)
    .attr('stroke-dasharray', it.dotted ? '4,5' : null);
  const tx = it.x + w + (it.dotted ? 19 : 18);
  if (it.label.length === 1) {
    svg.append('text').attr('x', tx).attr('y', legY + 8).attr('font-size', smallSize).text(it.label[0]);
  } else {
    svg.append('text').attr('x', tx).attr('y', legY - 8).attr('font-size', smallSize).text(it.label[0]);
    svg.append('text').attr('x', tx).attr('y', legY + 18).attr('font-size', smallSize).text(it.label[1]);
  }
});
</script>
</body>
</html>
